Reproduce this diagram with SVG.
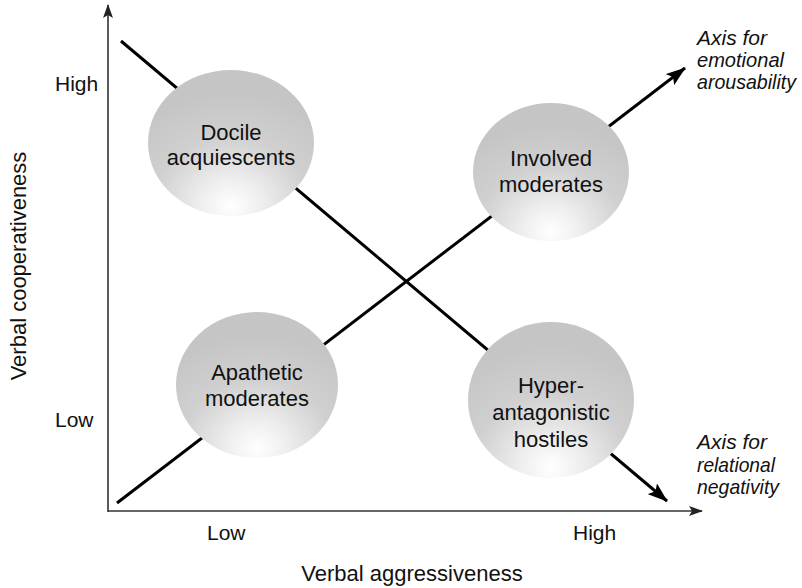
<svg xmlns="http://www.w3.org/2000/svg" width="802" height="588" viewBox="0 0 802 588">
<style>
.t{font-family:"Liberation Sans",Arial,sans-serif;fill:#111;}
.lab{font-size:21px;}
.title{font-size:22px;}
.node{font-size:22px;text-anchor:middle;}
.ax{font-family:"Liberation Sans Narrow","Liberation Sans",Arial,sans-serif;font-style:italic;font-size:21px;fill:#111;}
.axis{stroke:#333;stroke-width:1.6;fill:none;}
.diag{stroke:#000;stroke-width:3;fill:none;}
.blob{fill:url(#g);}
</style>
<defs>
<radialGradient id="g" cx="0.5" cy="0.93" r="0.78" fx="0.5" fy="0.93">
<stop offset="0" stop-color="#ffffff"/>
<stop offset="0.25" stop-color="#ededed"/>
<stop offset="0.6" stop-color="#d0d0d0"/>
<stop offset="1" stop-color="#c5c5c5"/>
</radialGradient>
<marker id="big" viewBox="0 0 20 14" refX="19" refY="7" markerWidth="20" markerHeight="14" markerUnits="userSpaceOnUse" orient="auto">
<path d="M0,0 L20,7 L0,14 L4,7 Z" fill="#000"/>
</marker>
<marker id="small" viewBox="0 0 14 10" refX="13" refY="5" markerWidth="14" markerHeight="10" markerUnits="userSpaceOnUse" orient="auto">
<path d="M0,0 L14,5 L0,10 L3,5 Z" fill="#222"/>
</marker>
</defs>
<g id="connectors">
<line class="axis" x1="108" y1="512" x2="108" y2="5" marker-end="url(#small)"/>
<line class="axis" x1="108" y1="511" x2="702" y2="511" marker-end="url(#small)"/>
<line class="diag" x1="121" y1="41" x2="667" y2="501" marker-end="url(#big)"/>
<line class="diag" x1="117" y1="503" x2="685" y2="68" marker-end="url(#big)"/>
</g>
<g id="docile">
<ellipse class="blob" cx="231" cy="143" rx="83" ry="73"/>
<text class="t node" x="231" y="140">Docile</text>
<text class="t node" x="231" y="165">acquiescents</text>
</g>
<g id="involved">
<ellipse class="blob" cx="551" cy="172" rx="78" ry="69"/>
<text class="t node" x="551" y="166">Involved</text>
<text class="t node" x="551" y="192">moderates</text>
</g>
<g id="apathetic">
<ellipse class="blob" cx="257" cy="385" rx="81" ry="73"/>
<text class="t node" x="257" y="380">Apathetic</text>
<text class="t node" x="257" y="406">moderates</text>
</g>
<g id="hyper">
<ellipse class="blob" cx="551" cy="400" rx="83" ry="78"/>
<text class="t node" x="551" y="393">Hyper-</text>
<text class="t node" x="551" y="420">antagonistic</text>
<text class="t node" x="551" y="447">hostiles</text>
</g>
<g id="labels">
<text class="t lab" x="55" y="91">High</text>
<text class="t lab" x="55" y="427">Low</text>
<text class="t lab" x="207" y="540">Low</text>
<text class="t lab" x="573" y="540">High</text>
<text class="t title" x="412" y="581" text-anchor="middle">Verbal aggressiveness</text>
<text class="t title" transform="translate(26,266) rotate(-90)" text-anchor="middle">Verbal cooperativeness</text>
<text class="ax" x="697" y="45" textLength="70" lengthAdjust="spacingAndGlyphs">Axis for</text>
<text class="ax" x="697" y="67" textLength="87" lengthAdjust="spacingAndGlyphs">emotional</text>
<text class="ax" x="697" y="89" textLength="99" lengthAdjust="spacingAndGlyphs">arousability</text>
<text class="ax" x="697" y="449" textLength="70" lengthAdjust="spacingAndGlyphs">Axis for</text>
<text class="ax" x="697" y="472" textLength="78" lengthAdjust="spacingAndGlyphs">relational</text>
<text class="ax" x="697" y="494" textLength="82" lengthAdjust="spacingAndGlyphs">negativity</text>
</g>
</svg>
